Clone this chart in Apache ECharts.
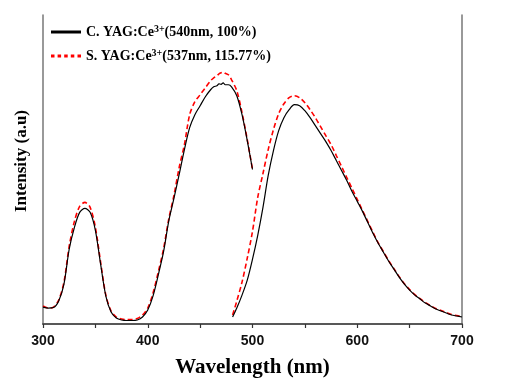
<!DOCTYPE html>
<html>
<head>
<meta charset="utf-8">
<script src="https://cdn.jsdelivr.net/npm/echarts@6/dist/echarts.min.js"></script>
<style>html,body{margin:0;padding:0;background:#fff}#c{width:507px;height:383px}</style>
</head>
<body>
<div id="c"></div>
<script>
// Excitation wavelengths (nm)
var exWl = [300,305,310,315,320,325,330,335,340,345,350,355,360,365,370,375,380,385,390,395,400,405,410,415,420,425,430,435,440,445,450,455,460,463,466,468,470,472,474,477,480,485,490,495,500];
var exC = [17,16,16.5,23,40,75,97,112,116,112,94,60,28,12,6,4,3.5,3.5,4,7,14,28,49,72,103,126,150,175,197,210,219,228,235,238,239,241,240.5,242,240,240,238,229,210,184,155];
var exS = [18,16,17,24,42,78,103,118,122,117,97,62,29,13,7,5,4.5,4.5,5.5,9,16,31,52,75,105,129,157,180,210,223,230,237,244,247,249,251,252,252.5,251.5,250,245,234,212,185,155];
// Emission wavelengths (nm)
var emWl = [481,485,490,495,500,505,510,515,520,525,530,535,540,545,550,555,560,565,570,575,580,585,590,595,600,605,610,615,620,625,630,635,640,645,650,655,660,665,670,675,680,685,690,695,700];
var emC = [7,16,29,44,65,89,117,149,174,194,207,215,220,219,214,207,199,191,183,174,164,154,144,133,123,113,102,91,81,72,63,55,47,40,34,29,25,21,18,15,13,11,9,8,7];
var emS = [9,23,42,66,93,127,151,175,195,211,221,227,229,227,222,215,207,198,189,180,169,158,147,136,125,114,103,92,81.5,72.5,63.5,55.5,47.5,40.5,34.5,29.5,25.5,21.5,18.5,15.5,13.5,11.5,9.5,8.5,7.5];
var xTicks = [300,400,500,600,700];
var legendC = 'C. YAG:Ce3+(540nm, 100%)';
var legendS = 'S. YAG:Ce3+(537nm, 115.77%)';

function pairs(x, y){ return x.map(function(v,i){return [v,y[i]];}); }

var nameC = 'C', nameS = 'S';
var chart = echarts.init(document.getElementById('c'));
var serif = '"Liberation Serif","Times New Roman",serif';
var blackStyle = {color:'#000', width:1.2, type:'solid'};
var redStyle = {color:'#ff0000', width:1.6, type:[5,3]};
var solidIcon = 'path://M0,0L30,0L30,3L0,3Z';
var dotIcon = 'path://M0,0h3.5v3h-3.5zM6.6,0h3.5v3h-3.5zM13.2,0h3.5v3h-3.5zM19.8,0h3.5v3h-3.5zM26.5,0h3.5v3h-3.5z';
chart.setOption({
  animation:false,
  grid:{left:43, right:45, top:15, bottom:58},
  legend:{
    orient:'vertical', left:46, top:19, itemWidth:30, itemHeight:3, itemGap:8,
    data:[
      {name:nameC, icon:solidIcon, itemStyle:{color:'#000'}},
      {name:nameS, icon:dotIcon, itemStyle:{color:'#ff0000'}}
    ],
    formatter:function(n){
      var s = n===nameC ? legendC : legendS;
      var parts = s.split('3+');
      return '{a|'+parts[0]+'}{s|3+}{a|'+parts[1]+'}';
    },
    textStyle:{
      rich:{
        a:{fontFamily:serif, fontWeight:'bold', fontSize:14, color:'#000', lineHeight:16},
        s:{fontFamily:serif, fontWeight:'bold', fontSize:10, color:'#000', verticalAlign:'top', lineHeight:16, padding:[0,0,6,0]}
      }
    }
  },
  graphic:[{
    type:'text', left:13, top:110, rotation:Math.PI/2,
    style:{text:'Intensity (a.u)', font:'bold 17px ' + serif, fill:'#000'}
  }],
  xAxis:[{
    type:'value', min:300, max:700, interval:100,
    name:'Wavelength (nm)', nameLocation:'middle', nameGap:33,
    nameTextStyle:{fontFamily:serif, fontWeight:'bold', fontSize:21, color:'#000'},
    axisLine:{show:true, lineStyle:{color:'#333', width:1.5}},
    axisTick:{show:true, length:4, lineStyle:{color:'#333', width:1.2}},
    minorTick:{show:true, splitNumber:2, length:4, lineStyle:{color:'#333', width:1.2}},
    splitLine:{show:false},
    axisLabel:{fontFamily:'"Liberation Sans",Arial,sans-serif', fontWeight:'bold', fontSize:14, color:'#111', margin:10,
      formatter:function(v){return xTicks.indexOf(v)>=0 ? String(v) : '';}}
  },{
    type:'value', min:300, max:700, position:'top',
    axisLine:{show:true, lineStyle:{color:'#555', width:1.5}},
    axisTick:{show:false}, axisLabel:{show:false}, splitLine:{show:false}
  }],
  yAxis:[{
    type:'value', min:0, max:310,
    axisLine:{show:true, lineStyle:{color:'#777', width:1.5}},
    axisTick:{show:false}, axisLabel:{show:false}, splitLine:{show:false}
  },{
    type:'value', min:0, max:310, position:'right',
    axisLine:{show:true, lineStyle:{color:'#777', width:1.5}},
    axisTick:{show:false}, axisLabel:{show:false}, splitLine:{show:false}
  }],
  series:[
    {name:nameC, type:'line', symbol:'none', smooth:0.3, data:pairs(exWl, exC), lineStyle:blackStyle, itemStyle:{color:'#000'}, z:3},
    {name:nameC, type:'line', symbol:'none', smooth:0.3, data:pairs(emWl, emC), lineStyle:blackStyle, itemStyle:{color:'#000'}, z:3},
    {name:nameS, type:'line', symbol:'none', smooth:0.3, data:pairs(exWl, exS), lineStyle:redStyle, itemStyle:{color:'#ff0000'}, z:2},
    {name:nameS, type:'line', symbol:'none', smooth:0.3, data:pairs(emWl, emS), lineStyle:redStyle, itemStyle:{color:'#ff0000'}, z:2}
  ]
});
</script>
</body>
</html>
